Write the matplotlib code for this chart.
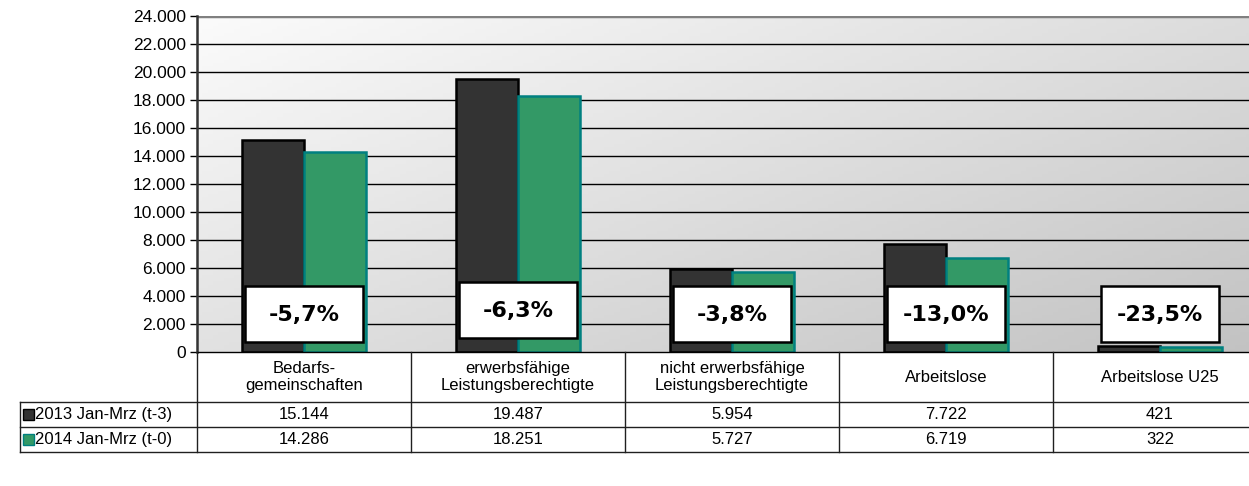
import numpy as np
import matplotlib.pyplot as plt
from matplotlib.colors import LinearSegmentedColormap
from matplotlib.patches import Rectangle

categories = ["Bedarfs-\ngemeinschaften", "erwerbsfähige\nLeistungsberechtigte",
              "nicht erwerbsfähige\nLeistungsberechtigte", "Arbeitslose", "Arbeitslose U25"]
series_names = ["2013 Jan-Mrz (t-3)", "2014 Jan-Mrz (t-0)"]
values_2013 = [15144, 19487, 5954, 7722, 421]
values_2014 = [14286, 18251, 5727, 6719, 322]
yticks = list(range(0, 24001, 2000))

dark = "#333333"
green = "#339966"
teal = "#008080"


def de_num(v):
    return f"{v:,.0f}".replace(",", ".")


W, H = 1249, 486
fig = plt.figure(figsize=(W / 100, H / 100), dpi=100)
plt.rcParams["font.family"] = ["Liberation Sans", "DejaVu Sans"]

# plot area in pixels (runs past the right edge of the picture)
n = len(categories)
col_w = 214
left, top, bottom = 197, 16, 352
right = left + n * col_w
ax = fig.add_axes([left / W, 1 - bottom / H, (right - left) / W, (bottom - top) / H])
ax.set_xlim(-0.5, n - 0.5)

# gradient background, light top-left to grey bottom-right
gx, gy = np.meshgrid(np.linspace(0, 1, 200), np.linspace(0, 1, 100))
grad = 0.55 * gx + 0.45 * gy
bg = LinearSegmentedColormap.from_list("bg", ["#fbfbfb", "#c2c2c2"])
ax.imshow(grad, extent=[-0.5, n - 0.5, 0, 24000], origin="upper", aspect="auto",
          cmap=bg, vmin=0, vmax=1, zorder=0)
ax.set_ylim(0, 24000)

for t in yticks[1:-1]:
    ax.axhline(t, color="black", lw=1, zorder=1)
ax.axhline(24000, color="#808080", lw=2.5, zorder=1)

x = np.arange(n)
bw = 0.29
ax.bar(x - bw / 2, values_2013, bw, color=dark, edgecolor="black", lw=1.8, zorder=2)
ax.bar(x + bw / 2, values_2014, bw, color=green, edgecolor=teal, lw=1.8, zorder=2)

# change boxes
box_w = 0.551
box_bottom = [714, 1000, 714, 714, 714]
for i in range(n):
    pct = (values_2014[i] - values_2013[i]) / values_2013[i] * 100
    label = f"{pct:.1f}%".replace(".", ",")
    ax.add_patch(Rectangle((i - box_w / 2, box_bottom[i]), box_w, 4000, fc="white",
                           ec="black", lw=1.8, zorder=4))
    ax.text(i, box_bottom[i] + 1950, label, ha="center", va="center", fontsize=16,
            fontweight="bold", family="DejaVu Sans", zorder=5)

ax.set_yticks(yticks)
ax.set_yticklabels([de_num(t) for t in yticks], fontsize=12.5)
ax.tick_params(axis="y", direction="out", length=5, width=1, pad=3)
ax.set_xticks([])
for s in ["top", "right"]:
    ax.spines[s].set_visible(False)
ax.spines["left"].set_linewidth(1.8)
ax.spines["left"].set_color("#333333")
ax.spines["bottom"].set_linewidth(1)

# data table below the plot
tab = fig.add_axes([0, 0, 1, 1])
tab.set_xlim(0, W)
tab.set_ylim(H, 0)
tab.axis("off")
row_y = [352, 402, 427, 452]
lc = "#202020"
for i in range(n):
    xc = left + i * col_w
    tab.plot([xc, xc], [352, 452], color=lc, lw=1)
for yy in row_y[1:]:
    tab.plot([20, W], [yy, yy], color=lc, lw=1)
tab.plot([20, 20], [402, 452], color=lc, lw=1)

for i, cat in enumerate(categories):
    cx = left + (i + 0.5) * col_w
    tab.text(cx, 377, cat, ha="center", va="center", fontsize=12, linespacing=1.2)
    tab.text(cx, 414.5, de_num(values_2013[i]), ha="center", va="center", fontsize=12)
    tab.text(cx, 439.5, de_num(values_2014[i]), ha="center", va="center", fontsize=12)

for j, (name, fc, ec) in enumerate(zip(series_names, [dark, green], ["black", teal])):
    yc = 414.5 + j * 25
    tab.add_patch(Rectangle((23, yc - 5.5), 11, 11, fc=fc, ec=ec, lw=1))
    tab.text(35, yc, name, ha="left", va="center", fontsize=12)

fig.savefig("out.png", dpi=100)
